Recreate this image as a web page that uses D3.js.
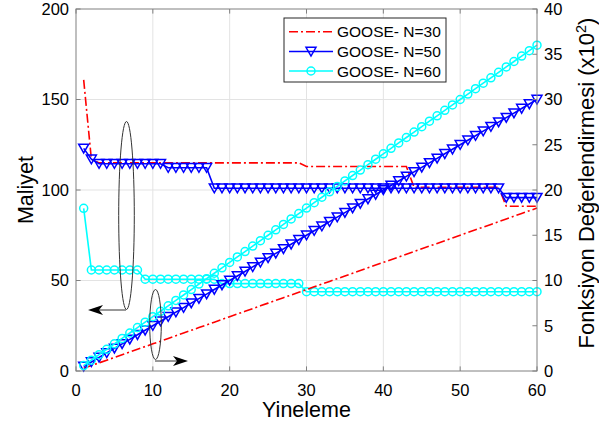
<!DOCTYPE html>
<html>
<head>
<meta charset="utf-8">
<script src="https://cdn.jsdelivr.net/npm/d3@7"></script>
<style>
  body { margin: 0; background: #fff; }
  svg { display: block; font-family: "Liberation Sans", Arial, sans-serif; }
</style>
</head>
<body>
<svg id="chart" width="599" height="432"></svg>
<script>
// ---------- DATA ----------
const iterations = d3.range(1, 61);
const xTicks = [0, 10, 20, 30, 40, 50, 60];
const yLeftTicks = [0, 50, 100, 150, 200];
const yRightTicks = [0, 5, 10, 15, 20, 25, 30, 35, 40];
const seriesNames = ["GOOSE- N=30", "GOOSE- N=50", "GOOSE- N=60"];

// Cost (Maliyet) – left axis
const costN30 = [160.8, 117,
  115, 115, 115, 115, 115, 115, 115, 115, 115, 115, 115, 115, 115, 115, 115, 115, 115, 115, 115, 115, 115, 115, 115, 115, 115, 115, 115,
  113, 113, 113, 113, 113, 113, 113, 113, 113, 113, 113, 113, 113, 113,
  101.5, 101.5, 101.5, 101.5, 101.5, 101.5, 101.5, 101.5, 101.5, 101.5, 101.5, 101.5,
  91, 91, 91, 91, 91];
const costN50 = [123, 117,
  114.5, 114.5, 114.5, 114.5, 114.5, 114.5, 114.5, 114.5, 114.5,
  112.3, 112.3, 112.3, 112.3, 112.3, 112.3,
  101, 101, 101, 101, 101, 101, 101, 101, 101, 101, 101, 101, 101, 101, 101, 101, 101, 101, 101,
  101, 101, 101, 101, 101, 101, 101, 101, 101, 101, 101, 101, 101, 101, 101, 101, 101, 101, 101,
  95.8, 95.8, 95.8, 95.8, 95.8];
const costN60 = [89.9,
  55.8, 55.8, 55.8, 55.8, 55.8, 55.8, 55.8,
  50.7, 50.7, 50.7, 50.7, 50.7, 50.7, 50.7, 50.7, 50.7, 50.7,
  48.3, 48.3, 48.3, 48.3, 48.3, 48.3, 48.3, 48.3, 48.3, 48.3, 48.3,
  43.8, 43.8, 43.8, 43.8, 43.8, 43.8, 43.8, 43.8, 43.8, 43.8, 43.8, 43.8, 43.8, 43.8, 43.8, 43.8,
  43.8, 43.8, 43.8, 43.8, 43.8, 43.8, 43.8, 43.8, 43.8, 43.8, 43.8, 43.8, 43.8, 43.8, 43.8];

// Function evaluations (x10^2) – right axis
const fesN30 = [0.3, 0.6, 0.9, 1.2, 1.5, 1.8, 2.1, 2.4, 2.7, 3.0, 3.3, 3.6, 3.9, 4.2, 4.5, 4.8, 5.1, 5.4, 5.7, 6.0,
  6.3, 6.6, 6.9, 7.2, 7.5, 7.8, 8.1, 8.4, 8.7, 9.0, 9.3, 9.6, 9.9, 10.2, 10.5, 10.8, 11.1, 11.4, 11.7, 12.0,
  12.3, 12.6, 12.9, 13.2, 13.5, 13.8, 14.1, 14.4, 14.7, 15.0, 15.3, 15.6, 15.9, 16.2, 16.5, 16.8, 17.1, 17.4, 17.7, 18.0];
const fesN50 = [0.5, 1.0, 1.5, 2.0, 2.5, 3.0, 3.5, 4.0, 4.5, 5.0, 5.5, 6.0, 6.5, 7.0, 7.5, 8.0, 8.5, 9.0, 9.5, 10.0,
  10.5, 11.0, 11.5, 12.0, 12.5, 13.0, 13.5, 14.0, 14.5, 15.0, 15.5, 16.0, 16.5, 17.0, 17.5, 18.0, 18.5, 19.0, 19.5, 20.0,
  20.5, 21.0, 21.5, 22.0, 22.5, 23.0, 23.5, 24.0, 24.5, 25.0, 25.5, 26.0, 26.5, 27.0, 27.5, 28.0, 28.5, 29.0, 29.5, 30.0];
const fesN60 = [0.6, 1.2, 1.8, 2.4, 3.0, 3.6, 4.2, 4.8, 5.4, 6.0, 6.6, 7.2, 7.8, 8.4, 9.0, 9.6, 10.2, 10.8, 11.4, 12.0,
  12.6, 13.2, 13.8, 14.4, 15.0, 15.6, 16.2, 16.8, 17.4, 18.0, 18.6, 19.2, 19.8, 20.4, 21.0, 21.6, 22.2, 22.8, 23.4, 24.0,
  24.6, 25.2, 25.8, 26.4, 27.0, 27.6, 28.2, 28.8, 29.4, 30.0, 30.6, 31.2, 31.8, 32.4, 33.0, 33.6, 34.2, 34.8, 35.4, 36.0];

// ---------- LAYOUT ----------
const svg = d3.select("#chart");
const L = 76, R = 537, T = 9, B = 371;
const x = d3.scaleLinear().domain([0, 60]).range([L, R]);
const yL = d3.scaleLinear().domain([0, 200]).range([B, T]);
const yR = d3.scaleLinear().domain([0, 40]).range([B, T]);

const styles = [
  { color: "#ff0000", dash: "9,3,2,3", marker: null },
  { color: "#0000ff", dash: null, marker: "tri" },
  { color: "#00ffff", dash: null, marker: "circle" }
];
const axisColor = "#808080";
const tickLen = 4.6;

svg.append("rect").attr("width", 599).attr("height", 432).attr("fill", "#fff");

// grid
const grid = svg.append("g").attr("stroke", "#e3e3e3").attr("stroke-width", 1);
xTicks.slice(1, -1).forEach(t => grid.append("line")
  .attr("x1", x(t)).attr("x2", x(t)).attr("y1", T).attr("y2", B));
yLeftTicks.slice(1, -1).forEach(t => grid.append("line")
  .attr("x1", L).attr("x2", R).attr("y1", yL(t)).attr("y2", yL(t)));

// series
const line = (ys, yScale) => d3.line().x((d, i) => x(iterations[i])).y(d => yScale(d))(ys);
const plot = svg.append("g");
function drawSeries(ys, yScale, st) {
  const g = plot.append("g");
  g.append("path").attr("d", line(ys, yScale)).attr("fill", "none")
    .attr("stroke", st.color).attr("stroke-width", 1.6)
    .attr("stroke-dasharray", st.dash);
  if (st.marker) {
    ys.forEach((v, i) => drawMarker(g, x(iterations[i]), yScale(v), st));
  }
}
function drawMarker(g, cx, cy, st) {
  if (st.marker === "tri") {
    g.append("path").attr("d", `M${cx - 5},${cy - 4.2}L${cx + 5},${cy - 4.2}L${cx},${cy + 4.6}Z`)
      .attr("fill", "none").attr("stroke", st.color).attr("stroke-width", 1.5);
  } else if (st.marker === "circle") {
    g.append("circle").attr("cx", cx).attr("cy", cy).attr("r", 4)
      .attr("fill", "none").attr("stroke", st.color).attr("stroke-width", 1.5);
  }
}
[costN30, costN50, costN60].forEach((s, k) => drawSeries(s, yL, styles[k]));
[fesN30, fesN50, fesN60].forEach((s, k) => drawSeries(s, yR, styles[k]));

// axes
const ax = svg.append("g").attr("stroke", axisColor).attr("stroke-width", 1).attr("fill", "none");
ax.append("rect").attr("x", L).attr("y", T).attr("width", R - L).attr("height", B - T);
xTicks.forEach(t => {
  ax.append("line").attr("x1", x(t)).attr("x2", x(t)).attr("y1", B).attr("y2", B - tickLen);
  ax.append("line").attr("x1", x(t)).attr("x2", x(t)).attr("y1", T).attr("y2", T + tickLen);
});
yLeftTicks.forEach(t => ax.append("line").attr("x1", L).attr("x2", L + tickLen).attr("y1", yL(t)).attr("y2", yL(t)));
yRightTicks.forEach(t => ax.append("line").attr("x1", R).attr("x2", R - tickLen).attr("y1", yR(t)).attr("y2", yR(t)));

// tick labels
const tl = svg.append("g").attr("font-size", "16.5px").attr("fill", "#000");
xTicks.forEach(t => tl.append("text").attr("x", x(t)).attr("y", B + 25).attr("text-anchor", "middle").text(t));
yLeftTicks.forEach(t => tl.append("text").attr("x", L - 7).attr("y", yL(t)).attr("dy", "0.36em").attr("text-anchor", "end").text(t));
yRightTicks.forEach(t => tl.append("text").attr("x", R + 7).attr("y", yR(t)).attr("dy", "0.36em").attr("text-anchor", "start").text(t));

// axis titles
svg.append("text").attr("x", (L + R) / 2).attr("y", 417).attr("text-anchor", "middle")
  .attr("font-size", "21.5px").text("Yineleme");
svg.append("text").attr("transform", `translate(33,${(T + B) / 2}) rotate(-90)`).attr("text-anchor", "middle")
  .attr("font-size", "21.5px").text("Maliyet");
const rt = svg.append("text").attr("transform", `translate(594,183) rotate(-90)`).attr("text-anchor", "middle")
  .attr("font-size", "22px");
rt.append("tspan").text("Fonksiyon Değerlendirmesi (x10");
rt.append("tspan").attr("font-size", "14.5px").attr("dy", "-8").text("2");
rt.append("tspan").attr("dy", "8").text(")");

// annotations (ellipses + arrows)
const ann = svg.append("g").attr("stroke", "#333").attr("fill", "none").attr("stroke-width", 1);
ann.append("ellipse").attr("cx", 126.5).attr("cy", 215.5).attr("rx", 7.8).attr("ry", 94);
ann.append("ellipse").attr("cx", 155.5).attr("cy", 324.5).attr("rx", 5.8).attr("ry", 35);
ann.append("line").attr("x1", 126).attr("y1", 310).attr("x2", 94).attr("y2", 310);
ann.append("line").attr("x1", 155).attr("y1", 361).attr("x2", 182).attr("y2", 361);
svg.append("path").attr("d", "M88,310 L103,305 L99,310 L103,315 Z").attr("fill", "#000");
svg.append("path").attr("d", "M188,361 L173,356 L177,361 L173,366 Z").attr("fill", "#000");

// legend
const lg = svg.append("g");
lg.append("rect").attr("x", 284).attr("y", 18).attr("width", 162).attr("height", 64)
  .attr("fill", "#fff").attr("stroke", "#262626").attr("stroke-width", 1);
const rows = [31.7, 51.5, 71];
seriesNames.forEach((name, k) => {
  const st = styles[k];
  const ly = rows[k];
  lg.append("line").attr("x1", 289).attr("x2", 333).attr("y1", ly).attr("y2", ly)
    .attr("stroke", st.color).attr("stroke-width", 1.6).attr("stroke-dasharray", st.dash);
  if (st.marker) drawMarker(lg, 311, ly, st);
  lg.append("text").attr("x", 337).attr("y", ly).attr("dy", "0.36em").attr("font-size", "15.5px").text(name);
});
</script>
</body>
</html>
